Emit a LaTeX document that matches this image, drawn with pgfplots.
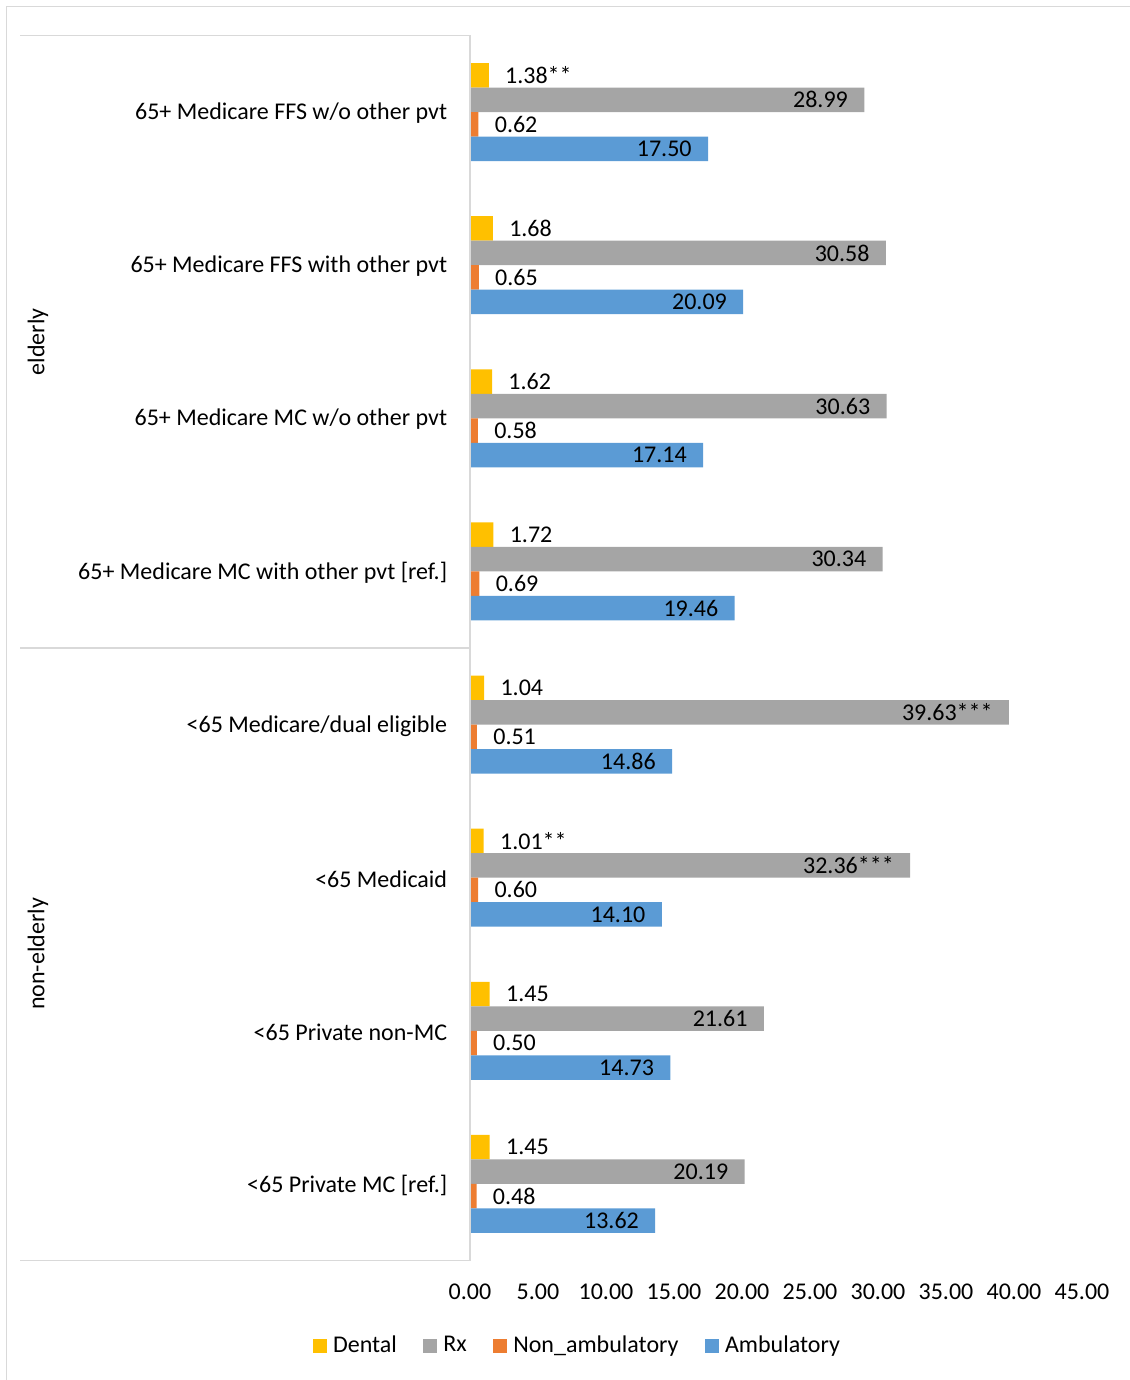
\documentclass[border=0pt]{standalone}
\usepackage{pgfplots}
\pgfplotsset{compat=1.18}
\usepackage{fontspec}
\setmainfont{Carlito}
\definecolor{cDental}{HTML}{FFC000}
\definecolor{cRx}{HTML}{A5A5A5}
\definecolor{cNon}{HTML}{ED7D31}
\definecolor{cAmb}{HTML}{5B9BD5}
\definecolor{gridc}{HTML}{D9D9D9}
\begin{document}
\fontsize{12bp}{14.4bp}\selectfont
\begin{tikzpicture}[x=1bp,y=1bp]
\useasboundingbox (0,0) rectangle (565,-690);
\draw[gridc, line width=0.8bp] (3.2,-3.2) rectangle (580,-700);
\begin{axis}[
  at={(235bp,-17.75bp)}, anchor=north west,
  scale only axis, width=306bp, height=612.5bp,
  xmin=0, xmax=45, ymin=-0.5, ymax=7.5, y dir=reverse,
  xbar, bar width=12.25bp, bar shift=0pt,
  axis line style={draw=none}, tick style={draw=none},
  xtick={0,5,...,45},
  xticklabel style={/pgf/number format/fixed, /pgf/number format/fixed zerofill, /pgf/number format/precision=2, inner sep=0pt, yshift=-11.5bp, anchor=north},
  /pgf/number format/assume math mode=true,
  ytick={0,1,...,7},
  yticklabels={65+ Medicare FFS w/o other pvt, 65+ Medicare FFS with other pvt, 65+ Medicare MC w/o other pvt, 65+ Medicare MC with other pvt [ref.], <65 Medicare/dual eligible, <65 Medicaid, <65 Private non-MC, <65 Private MC [ref.]},
  yticklabel style={inner sep=0pt, xshift=-7bp, yshift=-0.6bp, anchor=east},
  point meta=explicit symbolic,
  nodes near coords={\pgfplotspointmeta},
  every node near coord/.append style={font=\fontsize{12bp}{14.4bp}\selectfont, inner sep=0pt, text=black},
  legend columns=4,
  legend style={draw=none, fill=none, at={(0.174,-0.0697)}, anchor=center,
    nodes={inner sep=0pt},
    /tikz/every odd column/.append style={column sep=3bp},
    /tikz/every even column/.append style={column sep=13.25bp}},
  legend image code/.code={\fill[#1] (0bp,-3.5bp) rectangle (7bp,3.5bp);},
]
\addplot[fill=cDental, draw=none, every node near coord/.append style={anchor=west, xshift=8bp}] coordinates {
 (1.38,-0.24) [1.38**]
 (1.68,0.76) [1.68]
 (1.62,1.76) [1.62]
 (1.72,2.76) [1.72]
 (1.04,3.76) [1.04]
 (1.01,4.76) [1.01**]
 (1.45,5.76) [1.45]
 (1.45,6.76) [1.45]
};
\addplot[fill=cRx, draw=none, every node near coord/.append style={anchor=east, xshift=-8bp}] coordinates {
 (28.99,-0.08) [28.99]
 (30.58,0.92) [30.58]
 (30.63,1.92) [30.63]
 (30.34,2.92) [30.34]
 (39.63,3.92) [39.63***]
 (32.36,4.92) [32.36***]
 (21.61,5.92) [21.61]
 (20.19,6.92) [20.19]
};
\addplot[fill=cNon, draw=none, every node near coord/.append style={anchor=west, xshift=8bp}] coordinates {
 (0.62,0.08) [0.62]
 (0.65,1.08) [0.65]
 (0.58,2.08) [0.58]
 (0.69,3.08) [0.69]
 (0.51,4.08) [0.51]
 (0.60,5.08) [0.60]
 (0.50,6.08) [0.50]
 (0.48,7.08) [0.48]
};
\addplot[fill=cAmb, draw=none, every node near coord/.append style={anchor=east, xshift=-8bp}] coordinates {
 (17.50,0.24) [17.50]
 (20.09,1.24) [20.09]
 (17.14,2.24) [17.14]
 (19.46,3.24) [19.46]
 (14.86,4.24) [14.86]
 (14.10,5.24) [14.10]
 (14.73,6.24) [14.73]
 (13.62,7.24) [13.62]
};
\legend{Dental, Rx, Non\_ambulatory, Ambulatory}
\end{axis}
\draw[gridc, line width=0.8bp] (235,-17.75) -- (235,-630.25);
\draw[gridc, line width=0.8bp] (10,-17.75) -- (235,-17.75);
\draw[gridc, line width=0.8bp] (10,-324) -- (235,-324);
\draw[gridc, line width=0.8bp] (10,-630.25) -- (235,-630.25);
\node[rotate=90] at (19,-171) {elderly};
\node[rotate=90] at (19,-477) {non-elderly};
\end{tikzpicture}
\end{document}
